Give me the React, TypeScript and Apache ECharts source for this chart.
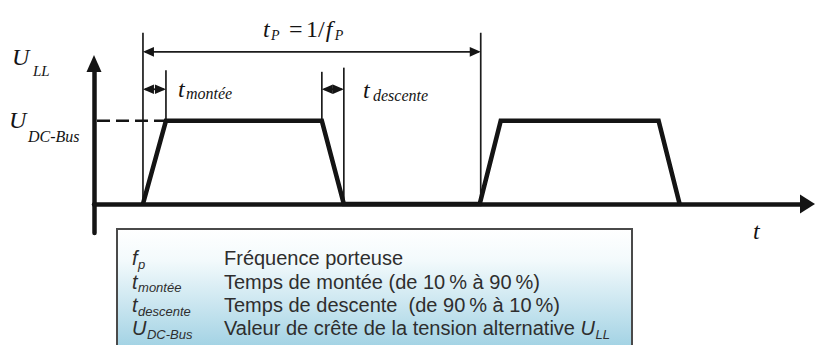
import { useEffect, useRef } from 'react';
import * as echarts from 'echarts';

// Time axis in arbitrary units (one carrier period t_P = 338 units); U axis in units of U_DC-Bus.
const pulseTime = [49, 72, 228, 250, 386, 407, 565, 586];
const pulseLevel = [0, 1, 1, 0, 0, 1, 1, 0];
// thin vertical guide lines: time, from level, to level
const guideTime = [49, 387, 72, 228, 250];
const guideFrom = [0, 0, 1, 1, 0];
const guideTo = [2.06, 2.06, 1.61, 1.59, 1.64];
// double-headed dimension arrows: start time, end time, level
const spanStart = [49, 49, 228];
const spanEnd = [387, 72, 250];
const spanLevel = [1.83, 1.38, 1.38];
// dashed reference line to U_DC-Bus
const dashStart = [0];
const dashEnd = [72];
const dashLevel = [1];
// axis extents
const timeRange = [0, 714];
const levelRange = [-0.35, 1.69];
// legend
const legendSymbols = ['f', 't', 't', 'U'];
const legendSubs = ['p', 'montée', 'descente', 'DC-Bus'];
const legendTexts = [
  'Fréquence porteuse',
  'Temps de montée (de 10\u2009% à 90\u2009%)',
  'Temps de descente  (de 90\u2009% à 10\u2009%)',
  'Valeur de crête de la tension alternative ',
];
const legendTail = ['U', 'LL'];

const INK = '#141414';
const SERIF = '"Liberation Serif", "Times New Roman", serif';
const SANS = '"Liberation Sans", Arial, Helvetica, sans-serif';

export default function App() {
  const ref = useRef<HTMLDivElement>(null);
  useEffect(() => {
    const el = ref.current!;
    const chart = echarts.init(el, null, { renderer: 'svg' });
    const ctx = document.createElement('canvas').getContext('2d')!;
    const fontOf = (size: number, fam: string, italic: boolean) =>
      `${italic ? 'italic ' : ''}${size}px ${fam}`;
    const measure = (font: string, s: string) => {
      ctx.font = font;
      return ctx.measureText(s).width;
    };
    const txt = (x: number, base: number, text: string, size: number, fam: string, italic: boolean, fill: string) => ({
      type: 'text',
      x,
      y: base - 0.34 * size,
      silent: true,
      style: {
        text,
        font: fontOf(size, fam, italic),
        fill,
        textAlign: 'left',
        textVerticalAlign: 'middle',
      },
    });

    const elements: any[] = [];
    // formula t_P = 1/f_P
    elements.push(txt(263, 37, 't', 24, SERIF, true, INK));
    elements.push(txt(271, 40, 'P', 14, SERIF, true, INK));
    elements.push(txt(289, 37, '=', 24, SERIF, false, INK));
    const oneX = 306;
    elements.push(txt(oneX, 37, '1/', 24, SERIF, false, INK));
    const fX = oneX + measure(fontOf(24, SERIF, false), '1/') + 1;
    elements.push(txt(fX, 37, 'f', 24, SERIF, true, INK));
    const pX = fX + measure(fontOf(24, SERIF, true), 'f') + 2.5;
    elements.push(txt(pX, 40, 'P', 14, SERIF, true, INK));

    elements.push(txt(12, 65, 'U', 24, SERIF, true, INK));
    elements.push(txt(33, 76, 'LL', 15, SERIF, true, INK));

    elements.push(txt(178, 97, 't', 24, SERIF, true, INK));
    elements.push(txt(186, 99, 'montée', 16, SERIF, true, INK));

    elements.push(txt(363, 98, 't', 24, SERIF, true, INK));
    elements.push(txt(373, 101, 'descente', 16, SERIF, true, INK));

    elements.push(txt(9, 128, 'U', 24, SERIF, true, INK));
    elements.push(txt(28, 142, 'DC-Bus', 16, SERIF, true, INK));

    elements.push(txt(753, 239, 't', 24, SERIF, true, INK));

    // legend box
    elements.push({
      type: 'rect',
      silent: true,
      shape: { x: 117, y: 229, width: 515, height: 125 },
      style: {
        fill: {
          type: 'linear', x: 0, y: 0, x2: 0, y2: 1,
          colorStops: [
            { offset: 0, color: '#ffffff' },
            { offset: 0.25, color: '#f3fafc' },
            { offset: 1, color: '#9ccfe2' },
          ],
        },
        stroke: '#4a4a4a',
        lineWidth: 2,
      },
    });
    const LEG = '#2e2e2e';
    legendTexts.forEach((t, i) => {
      const base = 265 + i * 23.3;
      const f = fontOf(20, SANS, true);
      elements.push(txt(132, base, legendSymbols[i], 20, SANS, true, LEG));
      const w = measure(f, legendSymbols[i]);
      elements.push(txt(132 + w + 0.5, base + 4, legendSubs[i], 13, SANS, true, LEG));
      elements.push(txt(224, base, t, 20, SANS, false, LEG));
      if (i === legendTexts.length - 1) {
        const tw = measure(fontOf(20, SANS, false), t);
        elements.push(txt(224 + tw, base, legendTail[0], 20, SANS, true, LEG));
        const uw = measure(fontOf(20, SANS, true), legendTail[0]);
        elements.push(txt(224 + tw + uw + 0.5, base + 4, legendTail[1], 13, SANS, true, LEG));
      }
    });

    const axisCommon = {
      type: 'value' as const,
      axisTick: { show: false },
      axisLabel: { show: false },
      splitLine: { show: false },
    };

    chart.setOption({
      animation: false,
      grid: { left: 94, right: 8.5, top: 63.5, bottom: 112 },
      xAxis: {
        ...axisCommon,
        min: timeRange[0],
        max: timeRange[1],
        axisLine: {
          show: true,
          onZero: true,
          symbol: ['none', 'triangle'],
          symbolSize: [19, 15],
          lineStyle: { color: INK, width: 4.5 },
        },
      },
      yAxis: {
        ...axisCommon,
        min: levelRange[0],
        max: levelRange[1],
        axisLine: {
          show: true,
          onZero: true,
          symbol: ['none', 'triangle'],
          symbolSize: [15, 17],
          lineStyle: { color: INK, width: 4.5 },
        },
      },
      series: [
        {
          type: 'custom',
          silent: true,
          clip: false,
          z: 2,
          encode: { x: 0, y: [1, 2] },
          data: guideTime.map((t, i) => [t, guideFrom[i], guideTo[i]]),
          renderItem: (_p: any, api: any) => {
            const a = api.coord([api.value(0), api.value(1)]);
            const b = api.coord([api.value(0), api.value(2)]);
            return {
              type: 'line',
              shape: { x1: a[0], y1: a[1], x2: b[0], y2: b[1] },
              style: { stroke: '#1c1c1c', lineWidth: 1.7 },
            };
          },
        },
        {
          type: 'custom',
          silent: true,
          clip: false,
          z: 2,
          encode: { x: [0, 1], y: 2 },
          data: spanStart.map((s, i) => [s, spanEnd[i], spanLevel[i]]),
          renderItem: (_p: any, api: any) => {
            const a = api.coord([api.value(0), api.value(2)]);
            const b = api.coord([api.value(1), api.value(2)]);
            const L = 11;
            const H = 4.8;
            return {
              type: 'group',
              children: [
                {
                  type: 'line',
                  shape: { x1: a[0] + 2, y1: a[1], x2: b[0] - 2, y2: b[1] },
                  style: { stroke: '#1c1c1c', lineWidth: 1.8 },
                },
                {
                  type: 'polygon',
                  shape: { points: [[a[0], a[1]], [a[0] + L, a[1] - H], [a[0] + L, a[1] + H]] },
                  style: { fill: INK },
                },
                {
                  type: 'polygon',
                  shape: { points: [[b[0], b[1]], [b[0] - L, b[1] - H], [b[0] - L, b[1] + H]] },
                  style: { fill: INK },
                },
              ],
            };
          },
        },
        {
          type: 'custom',
          silent: true,
          clip: false,
          z: 2,
          encode: { x: [0, 1], y: 2 },
          data: dashStart.map((s, i) => [s, dashEnd[i], dashLevel[i]]),
          renderItem: (_p: any, api: any) => {
            const a = api.coord([api.value(0), api.value(2)]);
            const b = api.coord([api.value(1), api.value(2)]);
            return {
              type: 'line',
              shape: { x1: a[0] + 3, y1: a[1], x2: b[0], y2: b[1] },
              style: { stroke: INK, lineWidth: 2.5, lineDash: [13, 6] },
            };
          },
        },
        {
          type: 'line',
          silent: true,
          z: 3,
          symbol: 'none',
          data: pulseTime.map((t, i) => [t, pulseLevel[i]]),
          lineStyle: { color: INK, width: 4.5, join: 'miter', miterLimit: 20 },
        },
      ],
      graphic: { elements },
    });
    return () => chart.dispose();
  }, []);
  return <div ref={ref} style={{ position: 'fixed', left: 0, top: 0, width: 816, height: 345, background: '#fff' }} />;
}
